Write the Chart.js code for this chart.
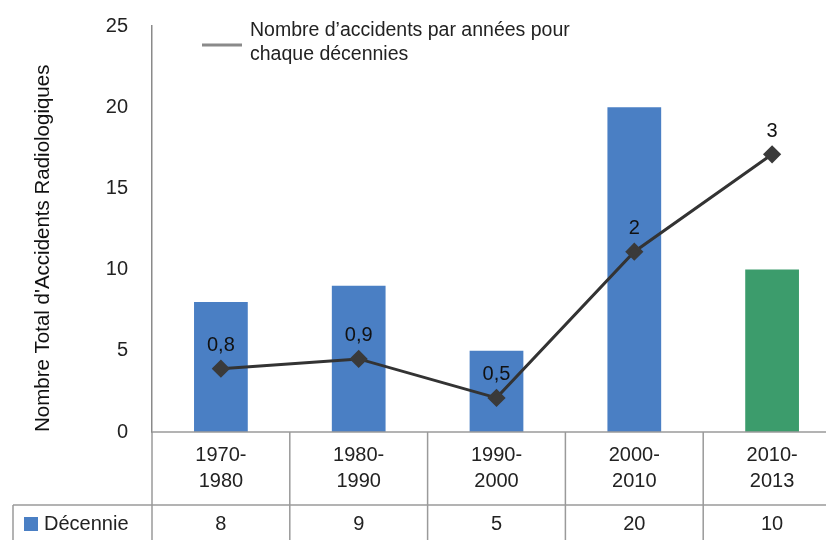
<!DOCTYPE html>
<html>
<head>
<meta charset="utf-8">
<script src="https://cdn.jsdelivr.net/npm/chart.js@4/dist/chart.umd.min.js"></script>
<style>
  html, body { margin: 0; padding: 0; background: #fff; overflow: hidden; }
  #wrap { width: 851px; height: 540px; position: relative; }
</style>
</head>
<body>
<div id="wrap"><canvas id="c"></canvas></div>
<script>
// ---- Data ----
const categories = ['1970-1980', '1980-1990', '1990-2000', '2000-2010', '2010-2013'];
const accidentsParDecennie = [8, 9, 5, 20, 10];
const accidentsParAnnee = [0.8, 0.9, 0.5, 2, 3];
const yTicks = [0, 5, 10, 15, 20, 25];
const barLabel = 'Décennie';
const lineLabel = 'Nombre d’accidents par années pour chaque décennies';
const yTitle = 'Nombre Total d\'Accidents Radiologiques';

const BLUE = '#4a7fc4';
const GREEN = '#3c9c6c';
const FONT = '"Liberation Sans", Arial, sans-serif';
const TEXT = '#222';
const GRIDC = '#9a9a9a';

const fmt = v => String(v).replace('.', ',');

const tablePlugin = {
  id: 'tablePlugin',
  afterDraw(chart) {
    const ctx = chart.ctx;
    const xs = chart.scales.x;
    const area = chart.chartArea;
    const bottom = chart.height;
    const rowTop = area.bottom + 73;
    const left = 13;
    const right = chart.width;
    ctx.save();
    ctx.strokeStyle = GRIDC;
    ctx.lineWidth = 1.5;
    ctx.beginPath();
    ctx.moveTo(area.left, area.bottom); ctx.lineTo(right, area.bottom);
    ctx.moveTo(left, rowTop); ctx.lineTo(right, rowTop);
    ctx.moveTo(left, rowTop); ctx.lineTo(left, bottom);
    for (let i = 0; i <= categories.length; i++) {
      const x = xs.getPixelForValue(i - 0.5);
      ctx.moveTo(x, area.bottom); ctx.lineTo(x, bottom);
    }
    ctx.stroke();
    ctx.fillStyle = TEXT;
    ctx.font = '20px ' + FONT;
    ctx.textAlign = 'center';
    ctx.textBaseline = 'middle';
    const rowMid = rowTop + 19;
    accidentsParDecennie.forEach((v, i) => {
      ctx.fillText(String(v), xs.getPixelForValue(i), rowMid);
    });
    ctx.fillStyle = BLUE;
    ctx.fillRect(24, rowMid - 7, 14, 14);
    ctx.fillStyle = TEXT;
    ctx.textAlign = 'left';
    ctx.fillText(barLabel, 44, rowMid);
    ctx.restore();
  }
};

const labelsPlugin = {
  id: 'labelsPlugin',
  afterDatasetsDraw(chart) {
    const ctx = chart.ctx;
    const meta = chart.getDatasetMeta(1);
    ctx.save();
    ctx.fillStyle = '#111';
    ctx.font = '20px ' + FONT;
    ctx.textAlign = 'center';
    ctx.textBaseline = 'middle';
    meta.data.forEach((pt, i) => {
      ctx.fillText(fmt(accidentsParAnnee[i]), pt.x, pt.y - 23);
    });
    ctx.restore();
  }
};

const legendPlugin = {
  id: 'legendPlugin',
  afterDraw(chart) {
    const ctx = chart.ctx;
    ctx.save();
    ctx.strokeStyle = '#8a8a8a';
    ctx.lineWidth = 3;
    ctx.beginPath();
    ctx.moveTo(202, 45); ctx.lineTo(242, 45);
    ctx.stroke();
    ctx.fillStyle = TEXT;
    ctx.font = '19.5px ' + FONT;
    ctx.textAlign = 'left';
    ctx.textBaseline = 'middle';
    const words = lineLabel.split(' pour ');
    ctx.fillText(words[0] + ' pour', 250, 31);
    ctx.fillText(words[1], 250, 55);
    ctx.restore();
  }
};

new Chart(document.getElementById('c'), {
  data: {
    labels: categories,
    datasets: [
      {
        type: 'bar',
        label: barLabel,
        data: accidentsParDecennie,
        backgroundColor: [BLUE, BLUE, BLUE, BLUE, GREEN],
        barPercentage: 0.39,
        categoryPercentage: 1,
        yAxisID: 'y',
        order: 1
      },
      {
        type: 'line',
        label: lineLabel,
        data: accidentsParAnnee,
        borderColor: '#333',
        borderWidth: 3,
        pointStyle: 'rectRot',
        pointRadius: 7,
        pointBackgroundColor: '#3a3a3a',
        pointBorderColor: '#3a3a3a',
        tension: 0,
        yAxisID: 'y2',
        order: 0
      }
    ]
  },
  options: {
    responsive: true,
    maintainAspectRatio: false,
    animation: false,
    layout: { padding: { top: 26, left: 0, right: 0, bottom: 0 } },
    plugins: {
      legend: { display: false },
      tooltip: { enabled: false }
    },
    scales: {
      x: {
        offset: true,
        grid: { display: false, drawTicks: false },
        border: { display: false },
        ticks: {
          color: TEXT,
          font: { family: FONT, size: 20, lineHeight: 1.3 },
          padding: 10,
          maxRotation: 0,
          autoSkip: false,
          callback: function (value) {
            const s = this.getLabelForValue(value);
            const p = s.split('-');
            return [p[0] + '-', p[1]];
          }
        },
        afterFit(scale) { scale.height = 108; }
      },
      y: {
        position: 'left',
        min: 0,
        max: 25,
        afterBuildTicks(scale) { scale.ticks = yTicks.map(v => ({ value: v })); },
        grid: { display: false, drawTicks: false },
        border: { display: true, color: '#8a8a8a', width: 1.5 },
        ticks: {
          color: TEXT,
          font: { family: FONT, size: 20 },
          padding: 24
        },
        title: {
          display: true,
          text: yTitle,
          color: '#111',
          align: 'start',
          font: { family: FONT, size: 20.5 },
          padding: { top: 31, bottom: 0 }
        },
        afterFit(scale) {
          scale.width = 152;
          scale.paddingTop = 0;
          scale.paddingBottom = 0;
        }
      },
      y2: {
        display: false,
        position: 'right',
        min: 0.15,
        max: 4.3167
      }
    }
  },
  plugins: [tablePlugin, labelsPlugin, legendPlugin]
});
</script>
</body>
</html>
